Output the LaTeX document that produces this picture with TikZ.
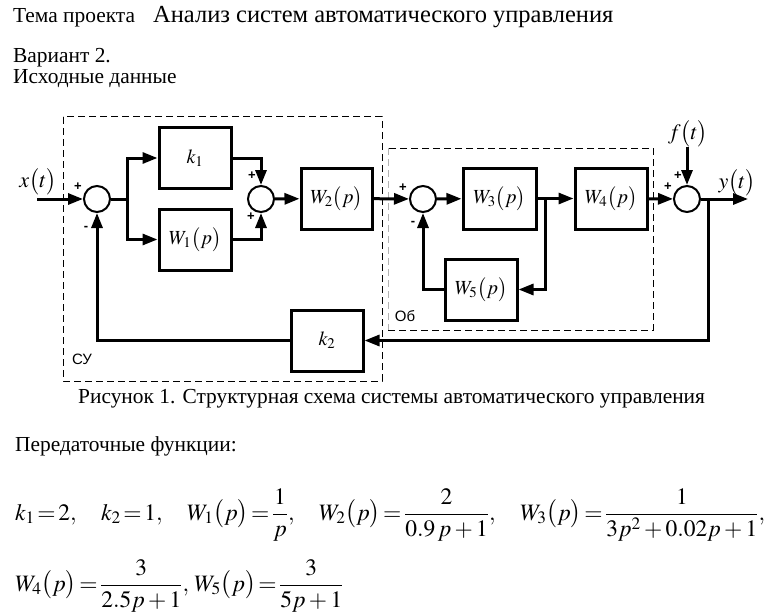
\documentclass[tikz,border=0pt]{standalone}
\usepackage{amsmath}
\usepackage{mathptmx}
\usepackage{fontspec}
\setmainfont{Liberation Serif}
\setsansfont{Liberation Sans}
\usetikzlibrary{arrows.meta,positioning}
\newcommand\fsz[1]{\fontsize{#1}{#1}\selectfont}
\newcommand\ar[1]{\bigl(#1\bigr)}
\newcommand\gap{\hspace{22pt}}
\newcommand\eqtight{\thickmuskip=2mu\relax\medmuskip=2.5mu\relax}
\tikzset{
  blk/.style={draw, line width=3pt, minimum width=72pt, minimum height=61pt, inner sep=0pt, font=\fsz{20}},
  sumc/.style={draw, circle, line width=2pt, minimum size=26pt, inner sep=0pt},
  sig/.style={line width=3pt, -{Triangle[length=15pt,width=11pt]}},
  wire/.style={line width=3pt},
  sgn/.style={font=\sffamily\bfseries\fsz{13}, inner sep=0pt},
  frame/.style={line width=1pt, dash pattern=on 7pt off 4pt},
  eqn/.style={anchor=base west, inner sep=0pt, font=\fsz{23.5}},
}
\begin{document}
\begin{tikzpicture}[x=1pt,y=-1pt]
    \useasboundingbox (0,0) rectangle (768,615);

    % header
    \node[anchor=base west, inner sep=0pt] (theme) at (13,23) {\fsz{21.4}Тема проекта};
    \node[anchor=base west, inner sep=0pt] (title) at (153,23) {\fsz{24.5}Анализ систем автоматического управления};
    \node[anchor=base west, inner sep=0pt] (var) at (13,63) {\fsz{21.4}Вариант 2.};
    \node[anchor=base west, inner sep=0pt] (data) at (13,84) {\fsz{21.4}Исходные данные};

    % frames
    \draw[frame] (63,117) rectangle (382,381);
    \draw[frame] (388,330) -- (653,330) -- (653,148) -- (388,148);
    \draw[frame, gray!60] (388,148) -- (388,330);
    \node[sgn, font=\sffamily\fsz{15}] (su) at (82,359) {СУ};
    \node[sgn, font=\sffamily\fsz{15}] (ob) at (405,316) {Об};

    % blocks
    \node[sumc] (s1) at (97,199) {};
    \node[blk] (k1) at (195,158) {$k_1$};
    \node[blk] (w1) at (195,239.5) {$W_1\ar{p}$};
    \node[sumc] (s2) at (261,199) {};
    \node[blk, minimum width=71pt] (w2) at (336.5,198.5) {$W_2\ar{p}$};
    \node[sumc] (s3) at (423,199) {};
    \node[blk, minimum width=73pt] (w3) at (499.5,198.5) {$W_3\ar{p}$};
    \node[blk] (w4) at (611,198.5) {$W_4\ar{p}$};
    \node[blk] (w5) at (481,289.5) {$W_5\ar{p}$};
    \node[sumc] (s4) at (687,199) {};
    \node[blk] (k2) at (327,340.5) {$k_2$};

    \coordinate (in) at (37,199);
    \coordinate (br1) at (127,199);
    \coordinate (br3) at (545,199);
    \coordinate (br4) at (708,199);
    \coordinate (out) at (748,199);
    \coordinate (ft) at (687,147);

    % signals
    \node[font=\fsz{22}] (xt) at (38,182) {$x\ar{t}$};
    \node[font=\fsz{22}] (yt) at (737,183) {$y\ar{t}$};
    \node[font=\fsz{22}] (ftl) at (688,134) {$f\ar{t}$};
    \draw[sig] (in) -- (s1);
    \draw[wire] (s1) -- (br1);
    \draw[sig] (br1) |- (k1);
    \draw[sig] (br1) |- (w1);
    \draw[sig] (k1) -| (s2);
    \draw[sig] (w1) -| (s2);
    \draw[sig] (s2) -- (w2);
    \draw[sig] (w2) -- (s3);
    \draw[sig] (s3) -- (w3);
    \draw[sig] (w3) -- (w4);
    \draw[sig] (br3) |- (w5);
    \draw[sig] (w5) -| (s3);
    \draw[sig] (w4) -- (s4);
    \draw[sig] (ft) -- (s4);
    \draw[sig] (s4) -- (out);
    \draw[sig] (br4) |- (k2);
    \draw[sig] (k2) -| (s1);

    % signs
    \node[sgn] (p1) at (78,187) {+};
    \node[sgn] (m1) at (86,228) {-};
    \node[sgn] (p2) at (252,176) {+};
    \node[sgn] (p3) at (251,217) {+};
    \node[sgn] (p4) at (403,188) {+};
    \node[sgn] (m3) at (413,223) {-};
    \node[sgn] (p5) at (678,176) {+};
    \node[sgn] (p6) at (668,187) {+};

    % caption and data
    \node[anchor=base west, inner sep=0pt] (cap) at (78,403) {\fsz{21.4}Рисунок 1. Структурная схема системы автоматического управления};
    \node[anchor=base west, inner sep=0pt] (tf) at (15,451) {\fsz{21.4}Передаточные функции:};
    \node[eqn] (eq1) at (15,520) {\eqtight$k_1=2,\gap k_2=1,\gap W_1\ar{p}=\dfrac{1}{p},\gap W_2\ar{p}=\dfrac{2}{0.9\,p+1},\gap W_3\ar{p}=\dfrac{1}{3p^2+0.02p+1},$};
    \node[eqn] (eq2) at (15,591) {\eqtight$W_4\ar{p}=\dfrac{3}{2.5p+1},\,W_5\ar{p}=\dfrac{3}{5p+1}$};
\end{tikzpicture}
\end{document}
